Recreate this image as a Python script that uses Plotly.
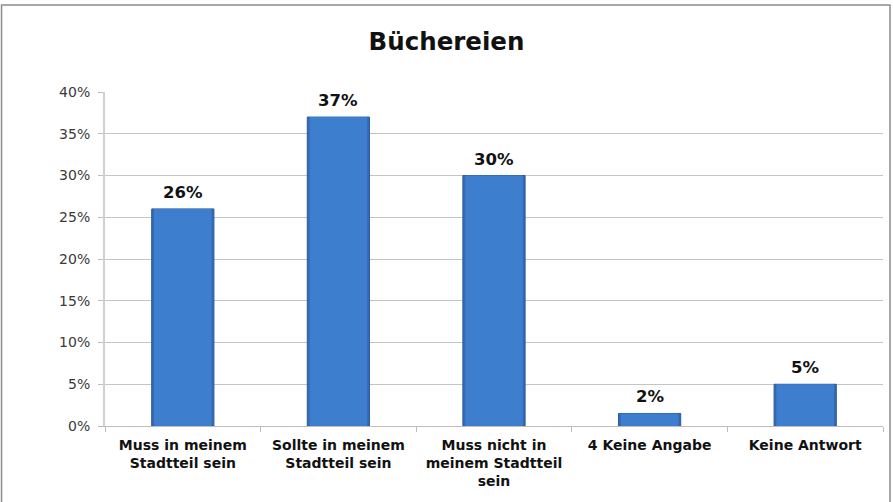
import plotly.graph_objects as go

# Survey result: how important is a library in the neighbourhood
categories = [
    "Muss in meinem<br>Stadtteil sein",
    "Sollte in meinem<br>Stadtteil sein",
    "Muss nicht in<br>meinem Stadtteil<br>sein",
    "4 Keine Angabe",
    "Keine Antwort",
]
shares = [0.26, 0.37, 0.30, 0.015, 0.05]
y_ticks = [0, 0.05, 0.10, 0.15, 0.20, 0.25, 0.30, 0.35, 0.40]

fig = go.Figure()

# Outer bar gives the darker rim, inner narrower bar the lighter body
fig.add_trace(go.Bar(
    x=categories, y=shares, width=0.4,
    marker=dict(color="#3569B3", line=dict(color="#2C5B9E", width=1)),
    hoverinfo="skip", showlegend=False,
))
fig.add_trace(go.Bar(
    x=categories, y=shares, width=0.37,
    marker=dict(color="#3E7ECF", line=dict(width=0)),
    hovertemplate="%{y:.0%}<extra></extra>", showlegend=False,
))

# Value labels above each bar
for c, v in zip(categories, shares):
    fig.add_annotation(
        x=c, y=v, text=f"<b>{round(v * 100 + 1e-9):.0f}%</b>",
        showarrow=False, yanchor="bottom", yshift=5,
        font=dict(family="DejaVu Sans", size=16.5, color="#111111"),
    )

# Outer chart frame
fig.add_shape(
    type="rect", xref="paper", yref="paper",
    x0=-0.133, x1=1.009, y0=-0.25, y1=1.2605,
    line=dict(color="#8C8C8C", width=1.5), fillcolor="rgba(0,0,0,0)",
    layer="below",
)

fig.update_layout(
    width=893, height=502,
    margin=dict(l=105, r=10, t=92, b=76),
    paper_bgcolor="white", plot_bgcolor="white",
    barmode="overlay",
    title=dict(
        text="<b>Büchereien</b>", x=0.5, xanchor="center",
        y=0.917, yanchor="middle",
        font=dict(family="DejaVu Sans", size=24.5, color="#111111"),
    ),
    font=dict(family="DejaVu Sans"),
    xaxis=dict(
        showgrid=False, showline=True, linecolor="#BDBDBD", linewidth=1,
        ticks="outside", tickson="boundaries", ticklen=5, tickcolor="#BDBDBD",
        ticklabelstandoff=6,
        tickfont=dict(family="DejaVu Sans", size=14, color="#111111", weight="bold"),
    ),
    yaxis=dict(
        range=[0, 0.4], tickvals=y_ticks, tickformat=".0%",
        showgrid=True, gridcolor="#C4C4C4", gridwidth=1,
        showline=True, linecolor="#D0D0D0", linewidth=2,
        ticks="outside", ticklen=5, tickcolor="#BDBDBD",
        ticklabelstandoff=5,
        tickfont=dict(family="DejaVu Sans", size=14, color="#3A3A3A"),
        zeroline=False,
    ),
)

fig.write_html("out.html")
